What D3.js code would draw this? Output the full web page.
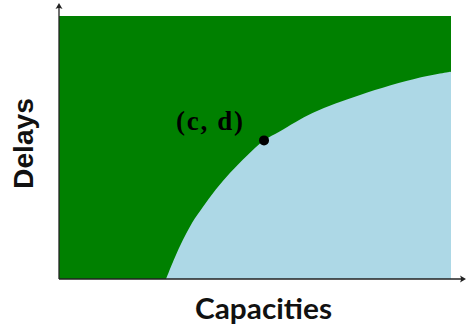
<!DOCTYPE html>
<html>
<head>
<meta charset="utf-8">
<script src="https://cdn.jsdelivr.net/npm/d3@7"></script>
<style>
  html, body { margin: 0; padding: 0; background: #fff; }
  svg { display: block; }
</style>
</head>
<body>
<svg id="chart" width="468" height="330"></svg>
<script>
// Trade-off frontier between capacity and delay (arbitrary units, 0..10)
const capacities = [2.73, 2.95, 3.16, 3.40, 3.67, 4.00, 4.36, 4.80, 5.23, 5.64, 6.48, 7.68, 9.21, 10.0];
const delays     = [0.00, 0.80, 1.48, 2.15, 2.74, 3.40, 4.03, 4.70, 5.27, 5.62, 6.32, 7.00, 7.66, 7.88];

// Highlighted operating point
const pointLabel = ["(c, d)"];
const pointCap   = [5.23];
const pointDelay = [5.27];

const axisTitles = ["Capacities", "Delays"];

const svg = d3.select("#chart");
const width = 468, height = 330;
const margin = { left: 59, right: 17, top: 16, bottom: 51 };

const x = d3.scaleLinear().domain([0, 10]).range([margin.left, width - margin.right]);
const y = d3.scaleLinear().domain([0, 10]).range([height - margin.bottom, margin.top]);

const frontier = capacities.map((c, i) => ({ c, d: delays[i] }));

// Infeasible region: the whole plotting area in green
svg.append("rect")
  .attr("x", x(0))
  .attr("y", y(10))
  .attr("width", x(10) - x(0))
  .attr("height", y(0) - y(10))
  .attr("fill", "#008000");

// Feasible region below the frontier in light blue
const area = d3.area()
  .x(p => x(p.c))
  .y0(y(0))
  .y1(p => y(p.d))
  .curve(d3.curveCatmullRom.alpha(0.5));

svg.append("path")
  .datum(frontier)
  .attr("d", area)
  .attr("fill", "#add8e6");

// Axes drawn as arrows from the origin
const axisColor = "#222";
const arrowLen = 6, arrowHalf = 3.5;
const xEnd = x(10) + 15;
const yEnd = y(10) - 13;

svg.append("line")
  .attr("x1", x(0)).attr("y1", y(0))
  .attr("x2", xEnd - 2).attr("y2", y(0))
  .attr("stroke", axisColor).attr("stroke-width", 1.3);
svg.append("line")
  .attr("x1", x(0)).attr("y1", y(0))
  .attr("x2", x(0)).attr("y2", yEnd + 2)
  .attr("stroke", axisColor).attr("stroke-width", 1.3);

svg.append("path")
  .attr("d", `M${xEnd},${y(0)} L${xEnd - arrowLen},${y(0) - arrowHalf} Q${xEnd - arrowLen + 2},${y(0)} ${xEnd - arrowLen},${y(0) + arrowHalf} Z`)
  .attr("fill", axisColor);
svg.append("path")
  .attr("d", `M${x(0)},${yEnd} L${x(0) - arrowHalf},${yEnd + arrowLen} Q${x(0)},${yEnd + arrowLen - 2} ${x(0) + arrowHalf},${yEnd + arrowLen} Z`)
  .attr("fill", axisColor);

// Operating point and its label
svg.selectAll("circle.pt")
  .data(pointCap)
  .join("circle")
  .attr("class", "pt")
  .attr("cx", (d, i) => x(d))
  .attr("cy", (d, i) => y(pointDelay[i]))
  .attr("r", 5)
  .attr("fill", "#000");

svg.selectAll("text.pt-label")
  .data(pointLabel)
  .join("text")
  .attr("class", "pt-label")
  .attr("x", (d, i) => x(pointCap[i]) - 21)
  .attr("y", (d, i) => y(pointDelay[i]) - 10)
  .attr("text-anchor", "end")
  .attr("font-family", "'Liberation Serif', 'DejaVu Serif', serif")
  .attr("font-weight", "bold")
  .attr("font-size", 27)
  .attr("textLength", 67)
  .attr("lengthAdjust", "spacing")
  .attr("fill", "#000")
  .text(d => d);

// Axis titles
svg.append("text")
  .attr("x", 195)
  .attr("y", 319)
  .attr("font-family", "Lato, 'Open Sans', sans-serif")
  .attr("font-weight", "bold")
  .attr("font-size", 28)
  .attr("textLength", 137)
  .attr("lengthAdjust", "spacingAndGlyphs")
  .attr("fill", "#111")
  .text(axisTitles[0]);

svg.append("text")
  .attr("transform", `translate(33, 189) rotate(-90)`)
  .attr("font-family", "'Liberation Sans', Arial, sans-serif")
  .attr("font-weight", "bold")
  .attr("font-size", 28)
  .attr("textLength", 91)
  .attr("lengthAdjust", "spacingAndGlyphs")
  .attr("fill", "#111")
  .text(axisTitles[1]);
</script>
</body>
</html>
